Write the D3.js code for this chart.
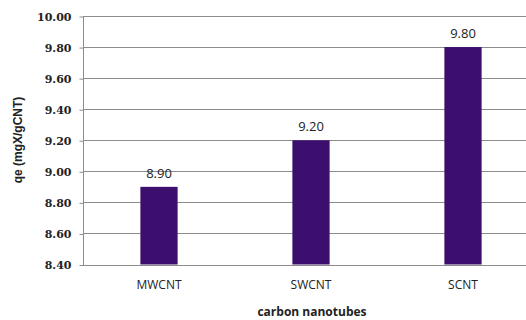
<!DOCTYPE html>
<html><head><meta charset="utf-8">
<script src="https://cdn.jsdelivr.net/npm/d3@7"></script>
<style>body{margin:0;background:#fff}svg{display:block}</style>
</head><body><svg id="c" width="526" height="320"></svg>
<script>
const categories = ["MWCNT", "SWCNT", "SCNT"];
const values = [8.90, 9.20, 9.80];
const yTicks = [8.40, 8.60, 8.80, 9.00, 9.20, 9.40, 9.60, 9.80, 10.00];

const svg = d3.select("#c");
const m = {left: 83, right: 539, top: 16, bottom: 264.5};
const font = "'Open Sans', 'DejaVu Sans', sans-serif";
const serif = "'DejaVu Serif', serif";

const x = d3.scaleBand().domain(categories).range([m.left, m.right]).paddingInner(0.755).paddingOuter(0.3775);
const y = d3.scaleLinear().domain([8.4, 10.0]).range([m.bottom, m.top]);

// gridlines
svg.append("g").selectAll("line").data(yTicks.slice(1)).join("line")
  .attr("x1", m.left).attr("x2", m.right)
  .attr("y1", d => Math.round(y(d)) + 0.5).attr("y2", d => Math.round(y(d)) + 0.5)
  .attr("stroke", "#8c8c8c").attr("stroke-width", 1);

// y axis
const ya = svg.append("g").attr("transform", `translate(${m.left + 0.5},0.5)`)
  .call(d3.axisLeft(y).tickValues(yTicks).tickFormat(d3.format(".2f")).tickSize(4).tickSizeOuter(0));
ya.select(".domain").attr("stroke", "#8c8c8c").attr("d", `M0,${y(10)}V${Math.round(y(8.4))}`);
ya.selectAll(".tick line").attr("stroke", "#8c8c8c");
ya.selectAll(".tick text").attr("font-family", serif).attr("font-size", 11).attr("font-weight", "bold").attr("fill", "#222").attr("x", -12);

// bars
svg.append("g").selectAll("rect").data(values).join("rect")
  .attr("x", (d, i) => x(categories[i]))
  .attr("width", x.bandwidth())
  .attr("y", d => y(d))
  .attr("height", d => y(8.4) - y(d))
  .attr("fill", "#3c0f6e");

// x axis baseline
svg.append("line").attr("x1", m.left).attr("x2", m.right)
  .attr("y1", Math.round(y(8.4)) + 0.5).attr("y2", Math.round(y(8.4)) + 0.5)
  .attr("stroke", "#8c8c8c");

// x labels
const xa = svg.append("g").attr("transform", `translate(0,${Math.round(y(8.4))})`)
  .call(d3.axisBottom(x).tickSize(0).tickSizeOuter(0));
xa.select(".domain").remove();
xa.selectAll(".tick text").attr("font-family", font).attr("font-size", 12).attr("fill", "#222").attr("dy", "1.75em");

// value labels
svg.append("g").selectAll("text").data(values).join("text")
  .attr("x", (d, i) => x(categories[i]) + x.bandwidth() / 2)
  .attr("y", d => y(d) - 9)
  .attr("text-anchor", "middle")
  .attr("font-family", font).attr("font-size", 13).attr("fill", "#222")
  .text(d => d3.format(".2f")(d));

// axis titles
svg.append("text").attr("x", 312).attr("y", 316)
  .attr("text-anchor", "middle").attr("font-family", font).attr("font-size", 12).attr("font-weight", "bold").attr("fill", "#222")
  .text("carbon nanotubes");
svg.append("text").attr("transform", "translate(22,140) rotate(-90)")
  .attr("text-anchor", "middle").attr("font-family", "'Liberation Sans', Arial, sans-serif").attr("font-size", 12).attr("font-weight", "bold").attr("fill", "#222")
  .text("qe (mgX/gCNT)");
</script></body></html>
